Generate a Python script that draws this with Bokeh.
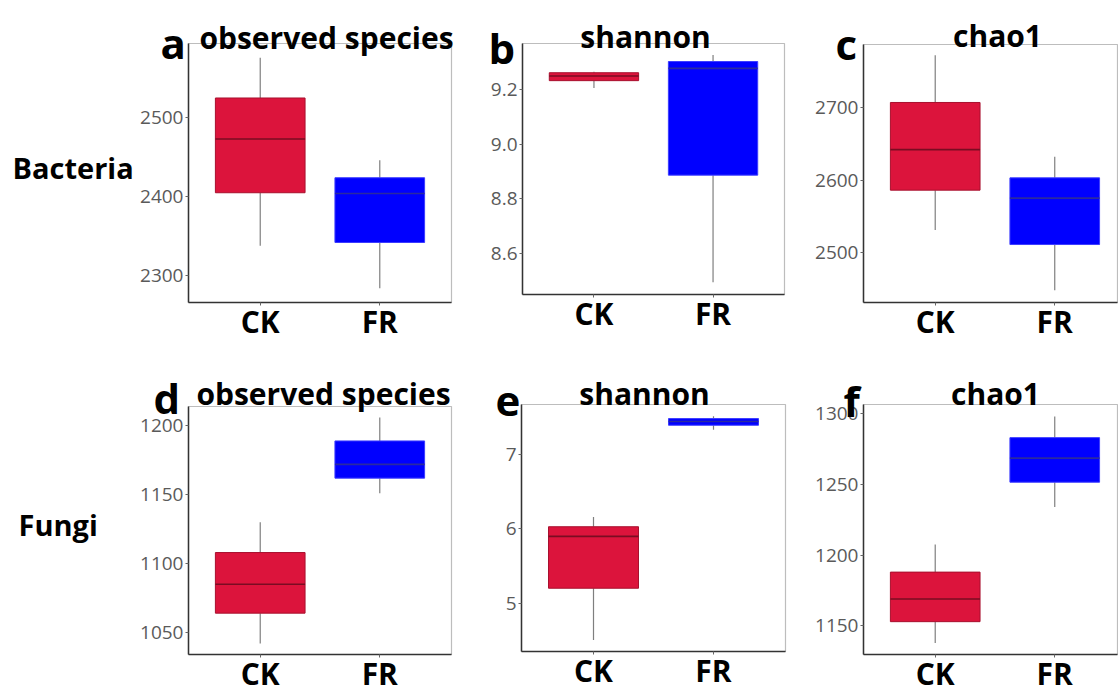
from bokeh.plotting import figure
from bokeh.models import (Range1d, FixedTicker, Label, ColumnDataSource,
                          NumeralTickFormatter, Spacer, GridBox)
from bokeh.layouts import row, column
from bokeh.embed import file_html
from bokeh.resources import INLINE

# ---------------- data ----------------
groups = ["CK", "FR"]
row_names = ["Bacteria", "Fungi"]
panel_letters = ["a", "b", "c", "d", "e", "f"]
panel_titles = ["observed species", "shannon", "chao1", "observed species", "shannon", "chao1"]

# five-number summaries per group: [min, q1, median, q3, max]
bac_observed_ck = [2338, 2405, 2473, 2525, 2576]
bac_observed_fr = [2284, 2342, 2404, 2424, 2446]
bac_shannon_ck = [9.206, 9.233, 9.250, 9.262, 9.266]
bac_shannon_fr = [8.495, 8.887, 9.278, 9.303, 9.327]
bac_chao1_ck = [2531, 2586, 2642, 2707, 2772]
bac_chao1_fr = [2448, 2511, 2575, 2603, 2632]
fun_observed_ck = [1042, 1064, 1085, 1108, 1130]
fun_observed_fr = [1151, 1162, 1172, 1189, 1206]
fun_shannon_ck = [4.50, 5.20, 5.90, 6.03, 6.16]
fun_shannon_fr = [7.34, 7.40, 7.45, 7.49, 7.52]
fun_chao1_ck = [1138, 1153, 1169, 1188, 1207.5]
fun_chao1_fr = [1234, 1251.5, 1268.5, 1283, 1298]

# y axis ticks
ticks_a = [2300, 2400, 2500]
ticks_b = [8.6, 8.8, 9.0, 9.2]
ticks_c = [2500, 2600, 2700]
ticks_d = [1050, 1100, 1150, 1200]
ticks_e = [5, 6, 7]
ticks_f = [1150, 1200, 1250, 1300]

# ---------------- style ----------------
FONT = "Open Sans"
FILL = ["#DC143C", "#0000FF"]
EDGE = ["#a8102e", "#3c3cff"]
MEDC = ["#7a0c22", "#2a2aa0"]
WHISK = "#7f7f7f"
BOX_W = 0.75


def panel(ck, fr, yr, yticks, W, H, bl, br, bt, bb, x_end, fmt=None):
    p = figure(width=W, height=H, x_range=Range1d(0.4, x_end), y_range=Range1d(*yr),
               output_backend="svg", toolbar_location=None,
               min_border_left=bl, min_border_right=br,
               min_border_top=bt, min_border_bottom=bb)
    xs = [i + 1 for i in range(len(groups))]
    stats = [ck, fr]
    src = ColumnDataSource(dict(
        x=xs,
        x0=[x - BOX_W / 2 for x in xs],
        x1=[x + BOX_W / 2 for x in xs],
        lo=[s[0] for s in stats],
        q1=[s[1] for s in stats],
        med=[s[2] for s in stats],
        q3=[s[3] for s in stats],
        hi=[s[4] for s in stats],
        fill=FILL, edge=EDGE, medc=MEDC,
    ))
    p.segment(x0="x", y0="q3", x1="x", y1="hi", source=src, line_color=WHISK, line_width=1.2)
    p.segment(x0="x", y0="lo", x1="x", y1="q1", source=src, line_color=WHISK, line_width=1.2)
    p.vbar(x="x", width=BOX_W, bottom="q1", top="q3", source=src,
           fill_color="fill", line_color="edge", line_width=1)
    p.segment(x0="x0", y0="med", x1="x1", y1="med", source=src, line_color="medc", line_width=1.6)

    p.xgrid.visible = False
    p.ygrid.visible = False
    p.outline_line_color = "#bdbdbd"
    p.outline_line_width = 1.2

    p.xaxis.ticker = FixedTicker(ticks=xs)
    p.xaxis.major_label_overrides = {x: g for x, g in zip(xs, groups)}
    p.xaxis.major_label_text_font = FONT
    p.xaxis.major_label_text_font_style = "bold"
    p.xaxis.major_label_text_font_size = "30px"
    p.xaxis.major_label_text_color = "#000000"
    p.xaxis.major_label_standoff = -5

    p.yaxis.ticker = FixedTicker(ticks=yticks)
    if fmt:
        p.yaxis.formatter = NumeralTickFormatter(format=fmt)
    p.yaxis.major_label_text_font = FONT
    p.yaxis.major_label_text_font_size = "19px"
    p.yaxis.major_label_text_color = "#5a5a5a"
    p.yaxis.major_label_standoff = 2

    for ax in (p.xaxis, p.yaxis):
        ax.axis_line_color = "#333333"
        ax.axis_line_width = 1.5
        ax.major_tick_line_color = "#666666"
        ax.major_tick_out = 3
        ax.major_tick_in = 0
        ax.minor_tick_line_color = None
    # wrap so that neighbouring panels do not share (synchronise) their borders
    return column(p)


def add_text(p, x, y, text, size, align="left"):
    p.add_layout(Label(x=x, y=y, text=text, text_font=FONT, text_font_style="bold",
                       text_font_size=size, text_color="#000000",
                       text_align=align, text_baseline="alphabetic"))


TOTAL_W, H1, H2 = 1118, 350, 346

pa = panel(bac_observed_ck, bac_observed_fr, (2266, 2594), ticks_a, 330, H1, 53, 14, 43, 48, 2.6)
pb = panel(bac_shannon_ck, bac_shannon_fr, (8.450, 9.369), ticks_b, 335, H1, 57, 16, 43, 56, 2.6, fmt="0.0")
pc = panel(bac_chao1_ck, bac_chao1_fr, (2431, 2787), ticks_c, 318, H1, 63, 1, 44, 48, 2.525)
pd = panel(fun_observed_ck, fun_observed_fr, (1034, 1214), ticks_d, 330, H2, 53, 14, 56, 41, 2.6)
pe = panel(fun_shannon_ck, fun_shannon_fr, (4.346, 7.68), ticks_e, 335, H2, 56, 15, 54, 45, 2.6)
pf = panel(fun_chao1_ck, fun_chao1_fr, (1129.8, 1306.4), ticks_f, 318, H2, 63, 1, 54, 41, 2.525)

main = column(row(Spacer(width=135, height=H1), pa, pb, pc),
              row(Spacer(width=135, height=H2), pd, pe, pf))

# transparent overlay carrying row names, panel letters and titles (pixel coords)
ov = figure(width=TOTAL_W, height=H1 + H2, x_range=Range1d(0, TOTAL_W),
            y_range=Range1d(H1 + H2, 0), x_axis_type=None, y_axis_type=None,
            output_backend="svg", toolbar_location=None, min_border=0)
ov.grid.visible = False
ov.outline_line_color = None
ov.background_fill_alpha = 0
ov.border_fill_alpha = 0

add_text(ov, 12, 167, row_names[0], "29px")
add_text(ov, 18, 524, row_names[1], "29px")
letter_pos = [(160, 42), (488, 47), (835, 43), (153, 397), (495, 400), (843, 400)]
title_pos = [(326, 37), (645, 36), (997, 35), (323, 393), (644, 393), (995, 393)]
for (x, y), t in zip(letter_pos, panel_letters):
    add_text(ov, x, y, t, "42px")
for (x, y), t in zip(title_pos, panel_titles):
    add_text(ov, x, y, t, "30px", "center")

layout = GridBox(children=[(main, 0, 0), (ov, 0, 0)])
open("out.html", "w").write(file_html(layout, INLINE))
